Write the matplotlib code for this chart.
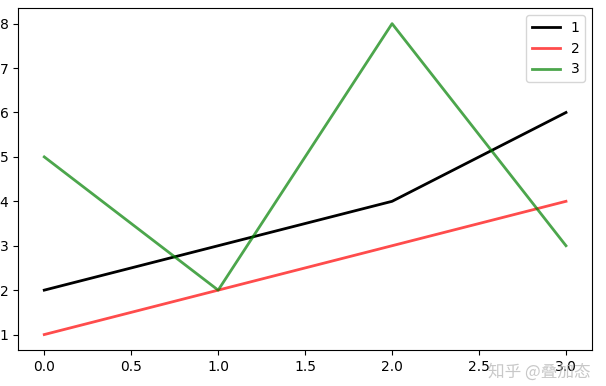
import matplotlib.pyplot as plt

x = [0, 1, 2, 3]
y1 = [2, 3, 4, 6]
y2 = [1, 2, 3, 4]
y3 = [5, 2, 8, 3]

fig = plt.figure(figsize=(6.06, 3.86), dpi=100)
ax = fig.add_axes([0.030, 0.093, 0.947, 0.886])

ax.plot(x, y1, color="black", linewidth=2, label="1")
ax.plot(x, y2, color="red", alpha=0.7, linewidth=2, label="2")
ax.plot(x, y3, color="green", alpha=0.7, linewidth=2, label="3")
ax.legend(loc="upper right")

# watermark
fig.text(0.975, 0.035, "知乎 @叠加态", ha="right", va="center", fontsize=12,
         color="#bbbbbb", alpha=0.8, family=["Noto Sans CJK SC", "DejaVu Sans"])

fig.savefig("out.png", dpi=100)
